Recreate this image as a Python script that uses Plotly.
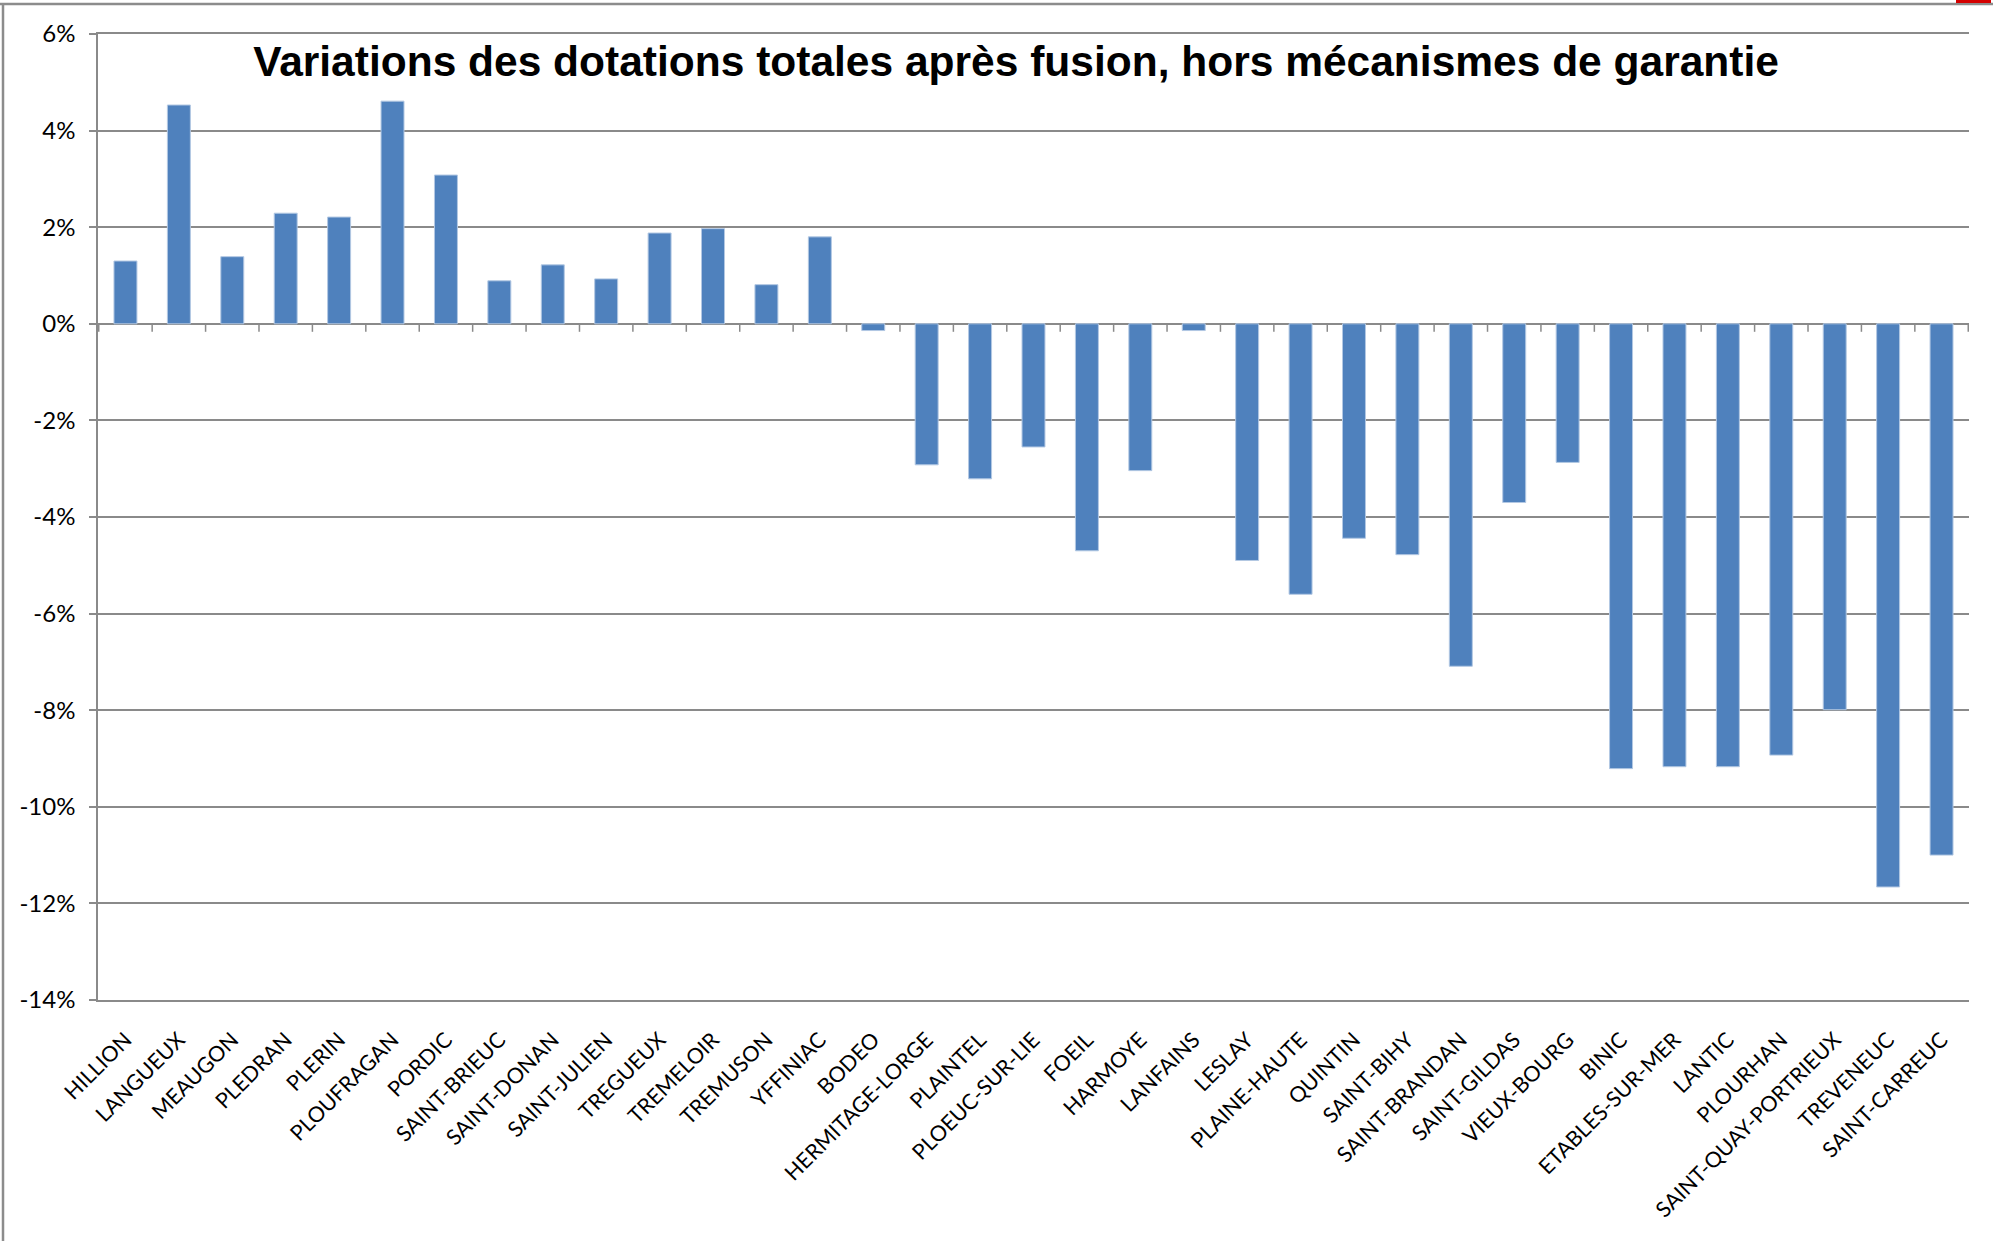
import plotly.graph_objects as go

communes = [
    "HILLION", "LANGUEUX", "MEAUGON", "PLEDRAN", "PLERIN", "PLOUFRAGAN", "PORDIC",
    "SAINT-BRIEUC", "SAINT-DONAN", "SAINT-JULIEN", "TREGUEUX", "TREMELOIR", "TREMUSON",
    "YFFINIAC", "BODEO", "HERMITAGE-LORGE", "PLAINTEL", "PLOEUC-SUR-LIE", "FOEIL",
    "HARMOYE", "LANFAINS", "LESLAY", "PLAINE-HAUTE", "QUINTIN", "SAINT-BIHY",
    "SAINT-BRANDAN", "SAINT-GILDAS", "VIEUX-BOURG", "BINIC", "ETABLES-SUR-MER",
    "LANTIC", "PLOURHAN", "SAINT-QUAY-PORTRIEUX", "TREVENEUC", "SAINT-CARREUC",
]
variations = [
    1.30, 4.53, 1.39, 2.29, 2.21, 4.61, 3.08,
    0.89, 1.22, 0.93, 1.88, 1.97, 0.81,
    1.80, -0.14, -2.92, -3.21, -2.55, -4.70,
    -3.04, -0.14, -4.90, -5.60, -4.44, -4.78,
    -7.09, -3.70, -2.87, -9.21, -9.17,
    -9.17, -8.93, -7.99, -11.66, -11.00,
]
y_ticks = [6, 4, 2, 0, -2, -4, -6, -8, -10, -12, -14]
y_tick_labels = [f"{v}%" for v in y_ticks]
title = "Variations des dotations totales après fusion, hors mécanismes de garantie"

GRID = "#8a8a8a"
W, H = 1993, 1241
L, R, T, B = 98, 24, 34, 241
plot_w, plot_h = W - L - R, H - T - B

fig = go.Figure()
fig.add_trace(go.Bar(
    x=communes, y=variations,
    marker=dict(color="#4f81bd", line=dict(color="#b3c8e3", width=1)),
))

# tick marks between categories on the zero line
for i in range(len(communes) + 1):
    fig.add_shape(type="line", xref="x", yref="y", x0=i - 0.5, x1=i - 0.5,
                  ysizemode="pixel", yanchor=0, y0=0, y1=-8,
                  line=dict(color=GRID, width=1.5))

# outer frame of the screenshot
px_x = lambda p: (p - L) / plot_w
px_y = lambda p: 1 - (p - T) / plot_h
fig.add_shape(type="line", xref="paper", yref="paper", x0=px_x(3), x1=px_x(3),
              y0=px_y(4), y1=px_y(H), line=dict(color="#8c8c8c", width=2.5))
fig.add_shape(type="line", xref="paper", yref="paper", x0=px_x(0), x1=px_x(W),
              y0=px_y(4), y1=px_y(4), line=dict(color="#8c8c8c", width=2.5))
fig.add_shape(type="rect", xref="paper", yref="paper", x0=px_x(1956), x1=px_x(1991),
              y0=px_y(3), y1=px_y(0), fillcolor="#d40000", line=dict(width=0))

fig.update_layout(
    width=W, height=H,
    margin=dict(l=L, r=R, t=T, b=B),
    paper_bgcolor="white", plot_bgcolor="white",
    showlegend=False,
    bargap=0.57,
    title=dict(text=title, x=1016 / W, xanchor="center", xref="container",
               y=1 - 61 / H, yanchor="middle", yref="container",
               font=dict(family="Liberation Sans, Arial", size=42.5, color="black", weight="bold")),
    font=dict(family="Lato, Open Sans, sans-serif", color="black"),
    xaxis=dict(
        type="category", showgrid=False, showline=True, mirror=True,
        linecolor=GRID, linewidth=1.5, ticks="", tickangle=-45,
        ticklabelstandoff=17, tickfont=dict(size=21.5), automargin=False,
    ),
    yaxis=dict(
        range=[-14, 6], tickvals=y_ticks, ticktext=y_tick_labels,
        showgrid=True, gridcolor=GRID, gridwidth=1.5,
        zeroline=True, zerolinecolor=GRID, zerolinewidth=2,
        showline=True, linecolor=GRID, linewidth=1.5,
        ticks="outside", ticklen=7, tickcolor=GRID, tickwidth=1.5,
        tickfont=dict(size=24), ticklabelstandoff=9, automargin=False,
    ),
)

fig.write_html("out.html", config={"displayModeBar": False},
               post_script="document.body.style.margin='0';")
